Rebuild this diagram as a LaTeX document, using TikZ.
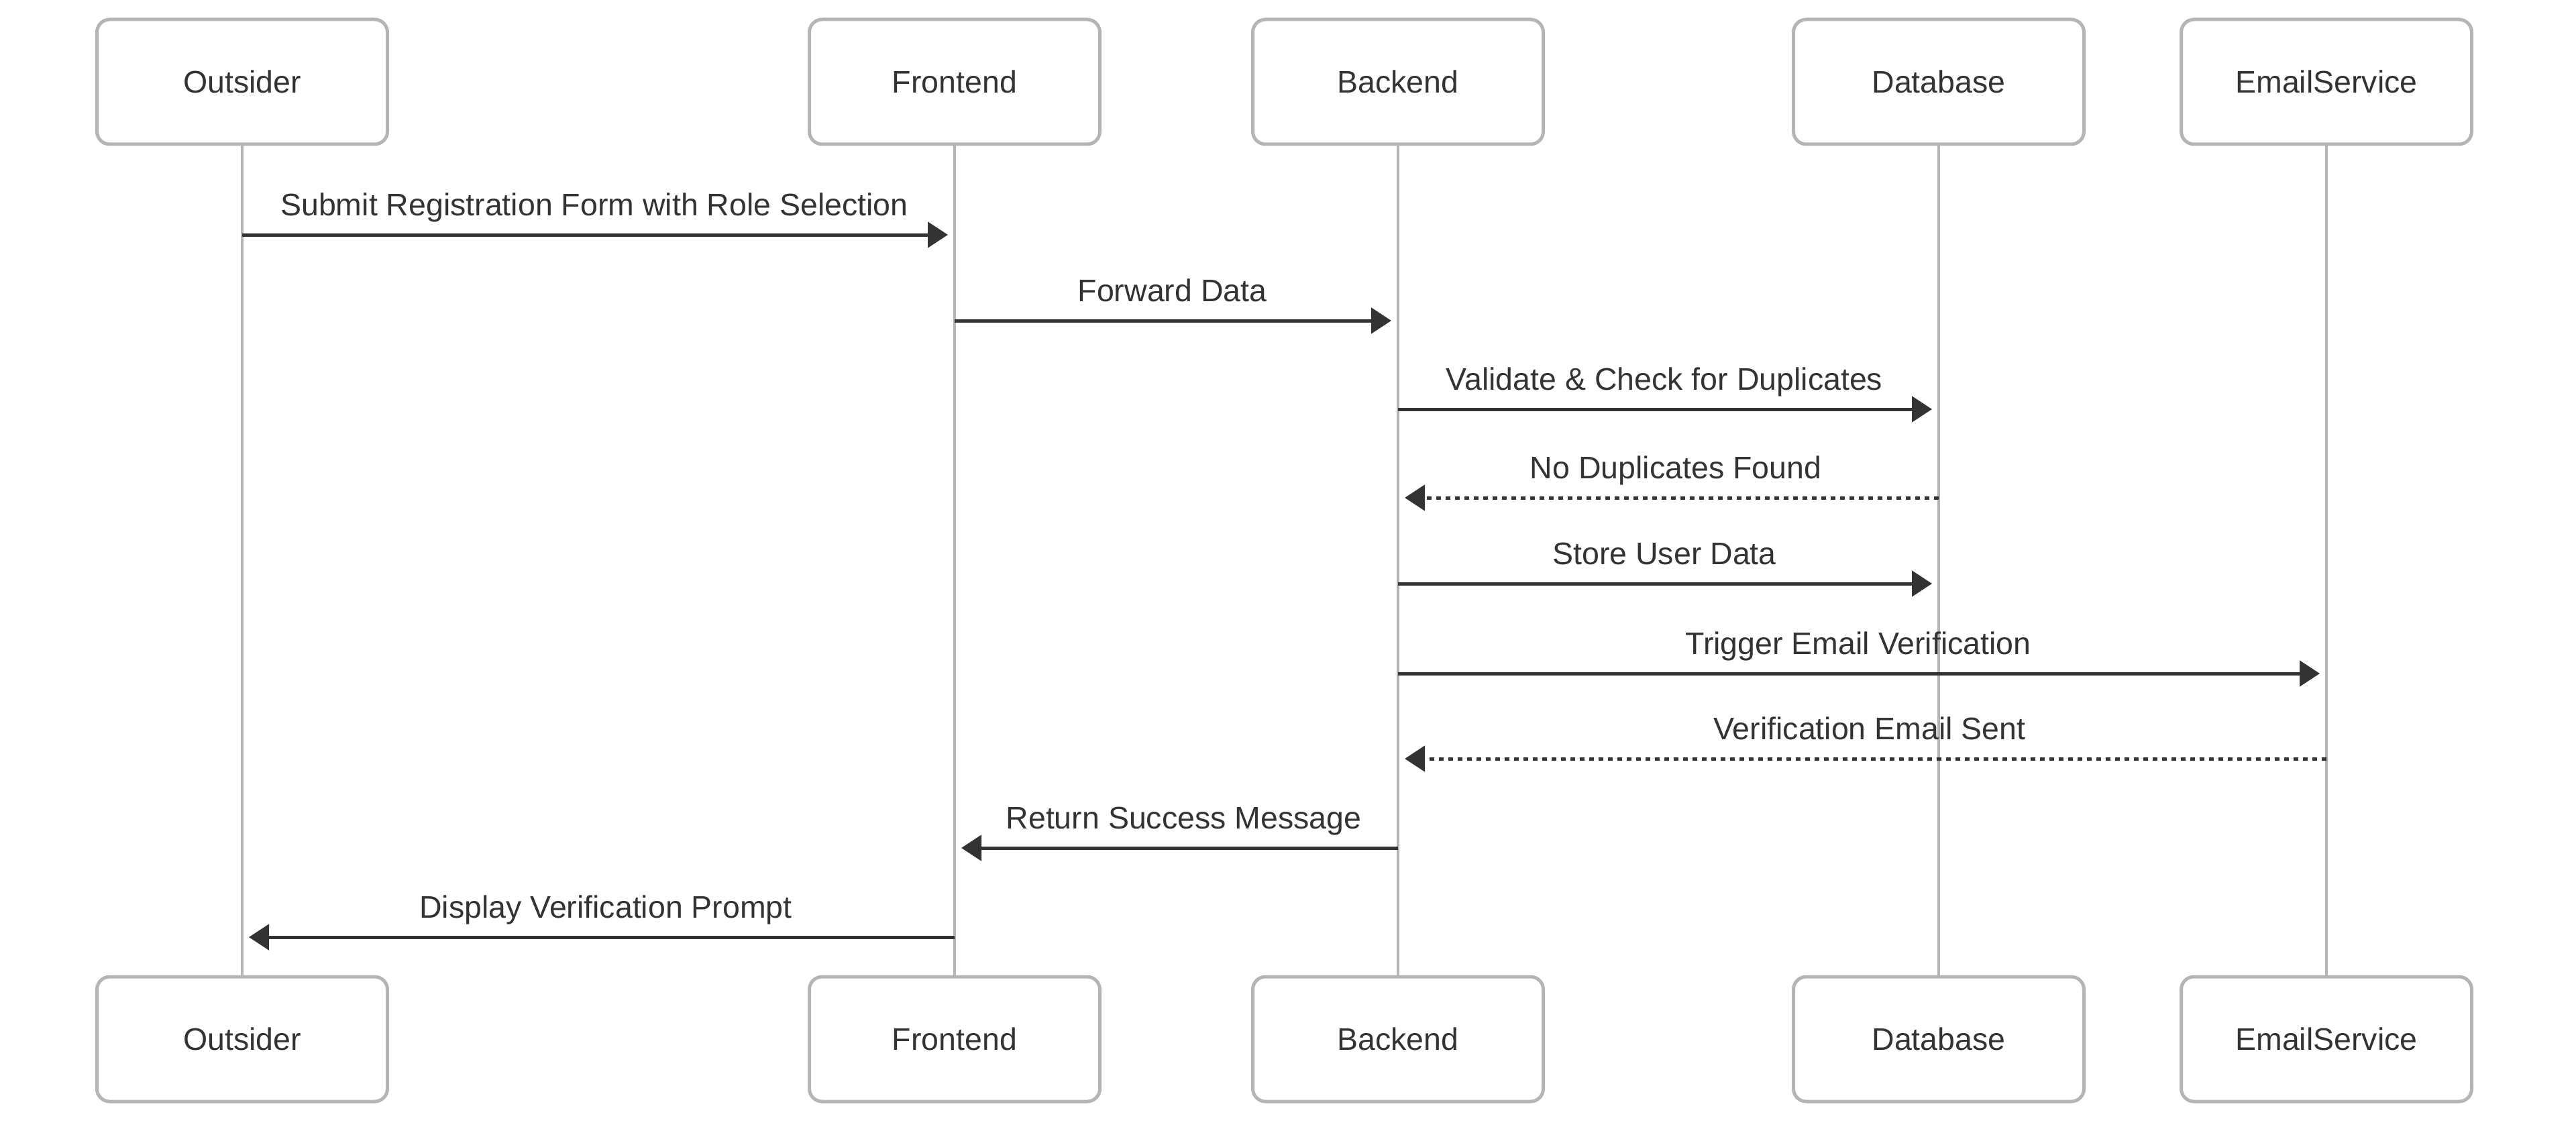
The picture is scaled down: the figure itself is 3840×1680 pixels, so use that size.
\documentclass[tikz,border=0pt]{standalone}
\usepackage{fontspec}
\setmainfont{Liberation Sans}
\usetikzlibrary{arrows.meta}
\definecolor{boxgray}{HTML}{B5B5B5}
\definecolor{ink}{HTML}{333333}
\tikzset{
  actor/.style={draw=boxgray, line width=5pt, fill=white, rounded corners=19pt,
    minimum width=433pt, minimum height=186pt, inner sep=0pt,
    text=ink, font=\fontsize{46.5pt}{55pt}\selectfont},
  life/.style={draw=boxgray, line width=4.5pt},
  msg/.style={draw=ink, line width=5pt, shorten >=10pt,
    -{Triangle[length=30pt,width=38pt]}},
  reply/.style={msg, dash pattern=on 7pt off 7pt},
  lbl/.style={anchor=base, yshift=29pt, text=ink, inner sep=0pt,
    font=\fontsize{46.5pt}{55pt}\selectfont},
  lblr/.style={lbl, xshift=-6pt},
  lbll/.style={lbl, xshift=11pt}
}
\begin{document}
\begin{tikzpicture}[x=1pt,y=-1pt]
\useasboundingbox (0,0) rectangle (3840,1680);
% top actors
\node[actor] (o1) at (361,122) {Outsider};
\node[actor] (f1) at (1423,122) {Frontend};
\node[actor] (b1) at (2084,122) {Backend};
\node[actor] (d1) at (2890,122) {Database};
\node[actor] (e1) at (3468,122) {EmailService};
% bottom actors
\node[actor] (o2) at (361,1549) {Outsider};
\node[actor] (f2) at (1423,1549) {Frontend};
\node[actor] (b2) at (2084,1549) {Backend};
\node[actor] (d2) at (2890,1549) {Database};
\node[actor] (e2) at (3468,1549) {EmailService};
% lifelines
\draw[life] (o1.south) -- (o2.north);
\draw[life] (f1.south) -- (f2.north);
\draw[life] (b1.south) -- (b2.north);
\draw[life] (d1.south) -- (d2.north);
\draw[life] (e1.south) -- (e2.north);
% messages
\draw[msg] (o1.south |- 0,350) -- node[lblr]{Submit Registration Form with Role Selection} (f1.south |- 0,350);
\draw[msg] (f1.south |- 0,478) -- node[lblr]{Forward Data} (b1.south |- 0,478);
\draw[msg] (b1.south |- 0,610) -- node[lblr]{Validate \& Check for Duplicates} (d1.south |- 0,610);
\draw[reply] (d1.south |- 0,742) -- node[lbll]{No Duplicates Found} (b1.south |- 0,742);
\draw[msg] (b1.south |- 0,870) -- node[lblr]{Store User Data} (d1.south |- 0,870);
\draw[msg] (b1.south |- 0,1004) -- node[lblr]{Trigger Email Verification} (e1.south |- 0,1004);
\draw[reply] (e1.south |- 0,1131) -- node[lbll]{Verification Email Sent} (b1.south |- 0,1131);
\draw[msg] (b1.south |- 0,1264) -- node[lbll]{Return Success Message} (f1.south |- 0,1264);
\draw[msg] (f1.south |- 0,1397) -- node[lbll]{Display Verification Prompt} (o1.south |- 0,1397);
\end{tikzpicture}
\end{document}
